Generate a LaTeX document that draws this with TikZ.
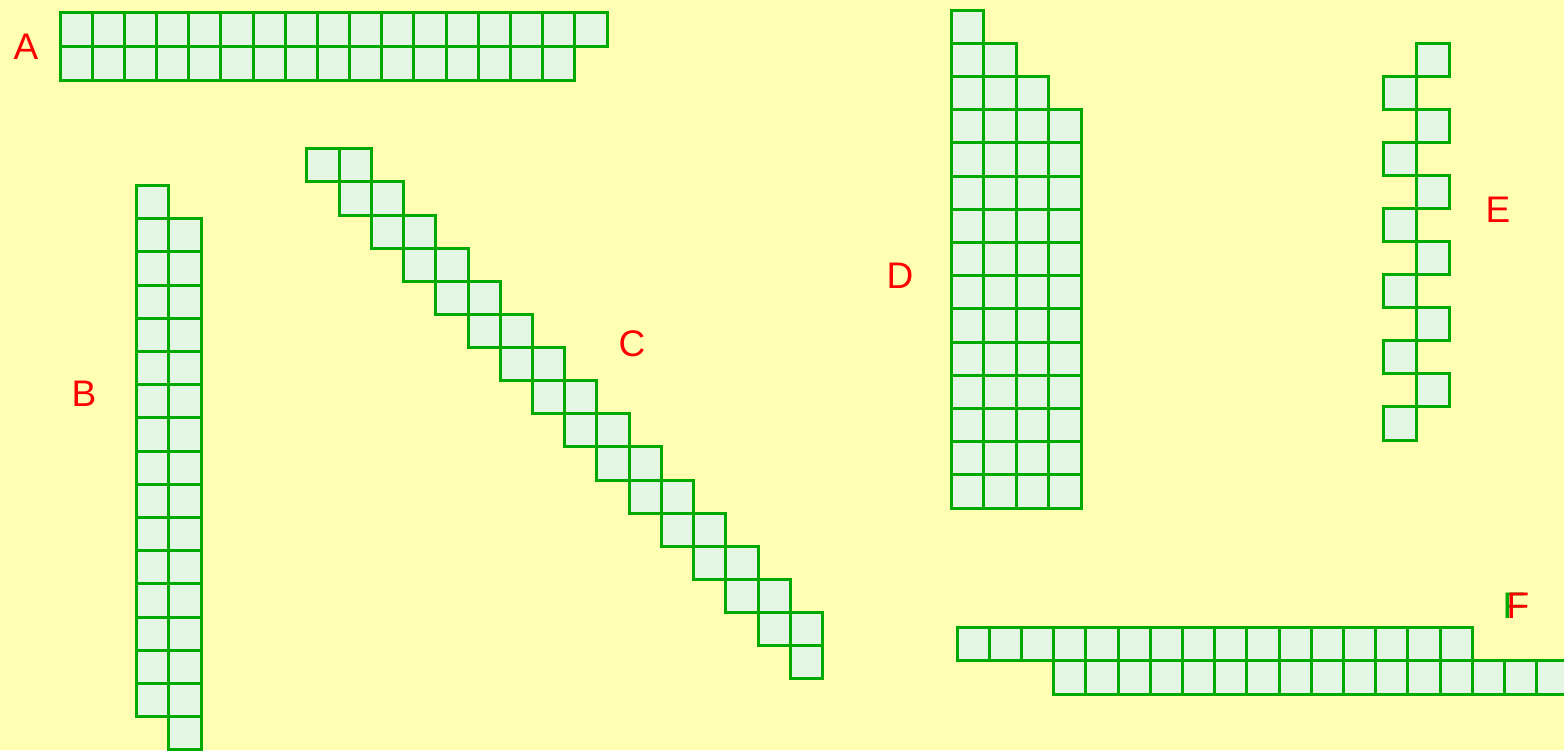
\documentclass[tikz,border=0pt]{standalone}
\usepackage{fontspec}
\setmainfont{Liberation Sans}
\definecolor{bg}{HTML}{FFFFB4}
\definecolor{cellfill}{HTML}{E4F6E4}
\definecolor{cellline}{HTML}{00AA00}
\definecolor{lbl}{HTML}{FF0000}
\begin{document}
\begin{tikzpicture}[x=1pt,y=-1pt,
  cell/.style={draw=cellline,fill=cellfill,line width=3pt},
  lab/.style={text=lbl,font=\fontsize{37}{37}\selectfont,inner sep=0pt}]
\fill[bg] (0,0) rectangle (1564,750);
\useasboundingbox (0,0) rectangle (1564,750);
\clip (0,0) rectangle (1564,750);
% A
\foreach \i in {0,...,16} \draw[cell] ({60+32.18*\i},12) rectangle ++(32.18,34);
\foreach \i in {0,...,15} \draw[cell] ({60+32.18*\i},46) rectangle ++(32.18,34);
% B
\foreach \j in {0,...,15} {
  \draw[cell] (136,{185.5+33.2*\j}) rectangle ++(32.5,33.2);
  \draw[cell] (168.5,{218.7+33.2*\j}) rectangle ++(32.5,33.2);
}
% C
\foreach \r in {0,...,14} {
  \draw[cell] ({306.8+32.24*\r},{148.8+33.12*\r}) rectangle ++(32.24,33.12);
  \draw[cell] ({306.8+32.24*(\r+1)},{148.8+33.12*\r}) rectangle ++(32.24,33.12);
}
\draw[cell] ({306.8+32.24*15},{148.8+33.12*15}) rectangle ++(32.24,33.12);
% D
\foreach \c in {0,...,3} {
  \foreach \r in {\c,...,14} {
    \draw[cell] ({951+32.5*\c},{10+33.2*\r}) rectangle ++(32.5,33.2);
  }
}
% E
\foreach \r in {0,2,...,10} \draw[cell] (1416.3,{43.3+33.06*\r}) rectangle ++(33,33.06);
\foreach \r in {1,3,...,11} \draw[cell] (1383.3,{43.3+33.06*\r}) rectangle ++(33,33.06);
% F
\foreach \i in {0,...,15} \draw[cell] ({957+32.2*\i},627) rectangle ++(32.2,33.5);
\foreach \i in {3,...,18} \draw[cell] ({957+32.2*\i},660.5) rectangle ++(32.2,33.5);
% labels
\node[lab] (la) at (26,46.5) {A};
\node[lab] (lb) at (84,394) {B};
\node[lab] (lc) at (632,344) {C};
\node[lab] (ld) at (900,276) {D};
\node[lab] (le) at (1498,210) {E};
\node[lab,text=cellline] (lfg) at (1514,606) {F};
\node[lab] (lf) at (1518,606) {F};
\end{tikzpicture}
\end{document}
